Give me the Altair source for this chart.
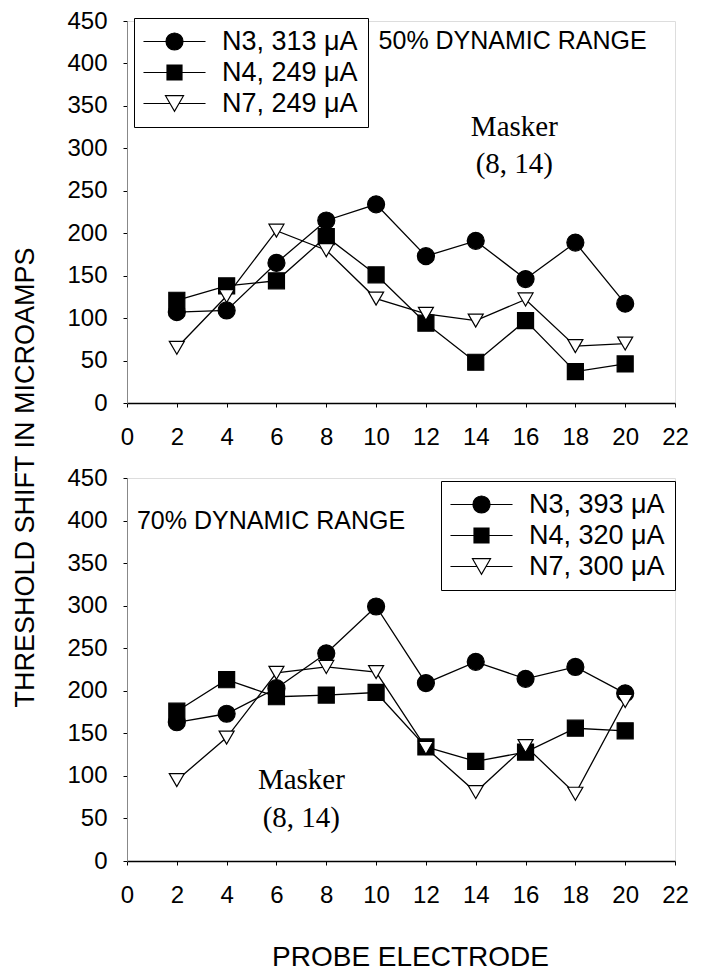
import altair as alt
import pandas as pd

# ---------------- data ----------------
electrodes = [2, 4, 6, 8, 10, 12, 14, 16, 18, 20]

top_labels = ["N3, 313 μA", "N4, 249 μA", "N7, 249 μA"]
top_n3 = [107, 109, 165, 215, 234, 173, 191, 146, 189, 117]
top_n4 = [121, 138, 144, 196, 151, 94, 48, 97, 37, 46]
top_n7 = [65, 126, 203, 180, 123, 105, 97, 122, 67, 70]

bottom_labels = ["N3, 393 μA", "N4, 320 μA", "N7, 300 μA"]
bot_n3 = [163, 173, 203, 244, 299, 209, 234, 214, 228, 197]
bot_n4 = [176, 213, 193, 195, 198, 134, 117, 128, 156, 153]
bot_n7 = [95, 145, 221, 228, 222, 133, 81, 135, 79, 188]

x_ticks = list(range(0, 23, 2))
y_ticks = list(range(0, 451, 50))

range_text = ["50% DYNAMIC RANGE", "70% DYNAMIC RANGE"]
range_x = [10.1, 0.4]
range_y = [427, 400]

masker_lines = ["Masker", "(8, 14)"]
masker_x = [15.55, 7.0]
masker_y_top = [325, 282]
masker_y_bot = [95, 50]

SANS = "Liberation Sans"
SERIF = "Liberation Serif"

POINT_SHAPES = ["circle", "square", "triangle-down"]
POINT_SIZES = [289, 225, 324]
FILLS = ["black", "black", "white"]
STROKES = ["black", "black", "black"]
LEGEND_SHAPES = [
    "M-3.65,0H-1M1,0H3.65M1,0A1,1,0,1,1,-1,0A1,1,0,1,1,1,0Z",
    "M-3.65,0H-0.88M0.88,0H3.65M-0.88,-0.88H0.88V0.88H-0.88Z",
    "M-3.65,0H-0.53M0.53,0H3.65M-1.06,-0.92H1.06L0,0.92Z",
]

TICK_FONT = 24


def series_frame(labels, values_list):
    rows = []
    for lab, vals in zip(labels, values_list):
        for e, v in zip(electrodes, vals):
            rows.append({"electrode": e, "shift": v, "series": lab})
    return pd.DataFrame(rows)


def panel(df, labels, lx, ly, rng_idx, m_x, m_ys, height, bottom, title_y):
    common_x = dict(values=x_ticks, labelPadding=18, domainColor="black", domainWidth=1.5,
                    tickSize=4, tickColor="black", format="d", labelFont=SANS,
                    labelFontSize=TICK_FONT, labelColor="black", grid=False,
                    labelFlush=False, labelOverlap=False)
    if bottom:
        x_axis = alt.Axis(title="PROBE ELECTRODE", titleFontSize=28,
                          titleFont=SANS, titleFontWeight="normal", titleColor="black",
                          titleX=283, titleY=96, titleBaseline="middle", **common_x)
    else:
        x_axis = alt.Axis(title=None, **common_x)
    common_y = dict(values=y_ticks, labelPadding=16, domainColor="#888", tickSize=4,
                    tickColor="black", labelFont=SANS, labelFontSize=TICK_FONT,
                    labelColor="black", grid=False, labelFlush=False, labelOverlap=False)
    if not bottom:
        y_axis = alt.Axis(title="THRESHOLD SHIFT IN MICROAMPS",
                          titleFontSize=27, titleFont=SANS, titleFontWeight="normal",
                          titleColor="black", titleX=-102, titleY=title_y, titleAngle=270,
                          titleAlign="center", titleBaseline="middle", **common_y)
    else:
        y_axis = alt.Axis(title=None, **common_y)

    xscale = alt.Scale(domain=[0, 22], nice=False, zero=False)
    yscale = alt.Scale(domain=[0, 450], nice=False)
    xenc = alt.X("electrode:Q", scale=xscale, axis=x_axis)
    yenc = alt.Y("shift:Q", scale=yscale, axis=y_axis)

    base = alt.Chart(df)
    lines = base.mark_line(color="black", strokeWidth=1.3).encode(
        x=xenc, y=yenc, detail="series:N", order="electrode:Q"
    )
    points = base.mark_point(filled=True, stroke="black", strokeWidth=1.2, opacity=1).encode(
        x=xenc, y=yenc,
        shape=alt.Shape("series:N", scale=alt.Scale(domain=labels, range=POINT_SHAPES), legend=None),
        fill=alt.Fill("series:N", scale=alt.Scale(domain=labels, range=FILLS), legend=None),
        size=alt.Size("series:N", scale=alt.Scale(domain=labels, range=POINT_SIZES), legend=None),
    )

    leg = alt.Legend(title=None, orient="none", legendX=lx, legendY=ly, direction="vertical",
                     labelFont=SANS, labelFontSize=27, labelColor="black", labelLimit=400,
                     symbolSize=289, symbolStrokeWidth=1.2, symbolOpacity=1,
                     strokeColor="black", fillColor="white", padding=10, rowPadding=3,
                     symbolOffset=17, labelOffset=34)
    legend_layer = base.transform_filter("false").mark_point(
        filled=True, strokeWidth=1.2, size=289, opacity=1
    ).encode(
        x=xenc, y=yenc,
        shape=alt.Shape("series:N", scale=alt.Scale(domain=labels, range=LEGEND_SHAPES), legend=leg),
        fill=alt.Fill("series:N", scale=alt.Scale(domain=labels, range=FILLS), legend=leg),
        stroke=alt.Stroke("series:N", scale=alt.Scale(domain=labels, range=STROKES), legend=leg),
    )

    rng_df = pd.DataFrame({"x": [range_x[rng_idx]], "y": [range_y[rng_idx]], "t": [range_text[rng_idx]]})
    rng = alt.Chart(rng_df).mark_text(align="left", baseline="middle", font=SANS,
                                      fontSize=25, color="black").encode(
        x=alt.X("x:Q", scale=xscale, axis=x_axis),
        y=alt.Y("y:Q", scale=yscale, axis=y_axis),
        text="t:N",
    )
    m_df = pd.DataFrame({"x": [m_x, m_x], "y": m_ys, "t": masker_lines})
    msk = alt.Chart(m_df).mark_text(align="center", baseline="middle", font=SERIF,
                                    fontSize=29, color="black").encode(
        x=alt.X("x:Q", scale=xscale, axis=x_axis),
        y=alt.Y("y:Q", scale=yscale, axis=y_axis),
        text="t:N",
    )

    return alt.layer(lines, points, legend_layer, rng, msk).resolve_scale(
        shape="independent", fill="independent", size="independent", stroke="independent"
    ).properties(width=548, height=height)


top_df = series_frame(top_labels, [top_n3, top_n4, top_n7])
bot_df = series_frame(bottom_labels, [bot_n3, bot_n4, bot_n7])

top = panel(top_df, top_labels, 7, -3, 0, masker_x[0], masker_y_top, 382, False, 456)
bottom = panel(bot_df, bottom_labels, 314, 3, 1, masker_x[1], masker_y_bot, 383, True, 0)

chart = alt.vconcat(top, bottom, spacing=75, bounds="flush").resolve_scale(
    shape="independent", fill="independent", size="independent", stroke="independent"
).properties(
    padding={"left": 2, "top": 0, "right": 5, "bottom": 0}
).configure_view(
    stroke="#777", strokeWidth=1
).configure(background="white")

chart.save("out.html", embed_options={"renderer": "svg", "actions": False})
